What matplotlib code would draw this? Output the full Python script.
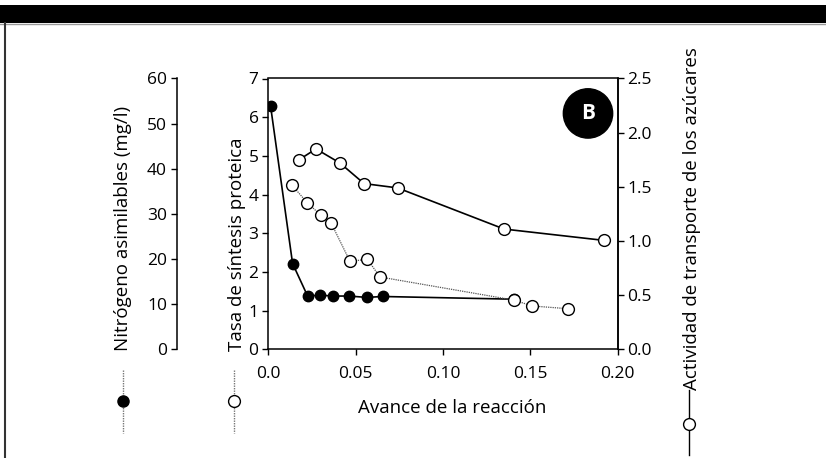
import matplotlib
matplotlib.use('Agg')
import matplotlib.pyplot as plt
from matplotlib.lines import Line2D
from matplotlib.patches import Rectangle

plt.rcParams['font.family'] = ['Open Sans', 'DejaVu Sans']

# data
# nitrogen (filled, mg/l) -- last point hidden under the open circle at ~0.14
nitro_x = [0.0013, 0.0139, 0.0225, 0.0298, 0.0368, 0.0460, 0.0565, 0.0655, 0.1408]
nitro_y = [53.9, 19.0, 11.8, 12.0, 11.8, 11.8, 11.5, 11.7, 11.1]

# protein synthesis rate (open, dotted)
prot_x = [0.0134, 0.0223, 0.0302, 0.0359, 0.0468, 0.0567, 0.0639, 0.1408, 0.1510, 0.1714]
prot_y = [4.25, 3.79, 3.46, 3.27, 2.27, 2.33, 1.87, 1.27, 1.12, 1.05]

# sugar transport activity (open, solid)
sug_x = [0.0176, 0.0273, 0.0410, 0.0548, 0.0740, 0.1350, 0.1924]
sug_y = [1.75, 1.85, 1.72, 1.53, 1.49, 1.11, 1.005]

x_ticks = [0.0, 0.05, 0.10, 0.15, 0.20]
x_labels = ['0.0', '0.05', '0.10', '0.15', '0.20']
prot_ticks = list(range(0, 8))
nitro_ticks = list(range(0, 70, 10))
sug_ticks = [0.0, 0.5, 1.0, 1.5, 2.0, 2.5]

W, H = 826, 458
fig = plt.figure(figsize=(W / 100, H / 100), dpi=100)

def fx(px):
    return px / W

def fy(py):
    return 1 - py / H

# frame of the original figure panel
fig.patches.append(Rectangle((0, fy(23)), 1, fy(5) - fy(23), transform=fig.transFigure,
                             facecolor='black', edgecolor='none', zorder=0))
fig.add_artist(Line2D([0, 1], [fy(23.5), fy(23.5)], color='#999999', lw=1.0))
fig.add_artist(Line2D([fx(5), fx(5)], [0, fy(23)], color='#333333', lw=1.5))

left, right, top, bottom = 268.3, 617.7, 78.5, 349.3
ax = fig.add_axes([fx(left), fy(bottom), (right - left) / W, (bottom - top) / H])

tick_fs = 12.5
label_fs = 13.5
tick_kw = dict(direction='out', length=4, width=1, labelsize=tick_fs, pad=3)
lw_main = 1.1

ax.set_xlim(0, 0.20)
ax.set_ylim(0, 7)
ax.set_xticks(x_ticks)
ax.set_xticklabels(x_labels)
ax.set_yticks(prot_ticks)
ax.tick_params(**tick_kw)
ax.tick_params(axis='x', pad=8)
for s in ax.spines.values():
    s.set_linewidth(lw_main)

# nitrogen axis, moved out to the left
axn = ax.twinx()
axn.set_ylim(0, 60)
axn.set_yticks(nitro_ticks)
axn.yaxis.set_ticks_position('left')
axn.yaxis.set_label_position('left')
for k in ['top', 'right', 'bottom']:
    axn.spines[k].set_visible(False)
axn.spines['left'].set_position(('outward', (left - 176.7) * 0.72))
axn.spines['left'].set_linewidth(lw_main)
axn.tick_params(**tick_kw)

# sugar transport axis on the right
axs = ax.twinx()
axs.set_ylim(0, 2.5)
axs.set_yticks(sug_ticks)
axs.set_yticklabels(['%.1f' % v for v in sug_ticks])
for k in ['top', 'left', 'bottom']:
    axs.spines[k].set_visible(False)
axs.spines['right'].set_linewidth(lw_main)
axs.tick_params(**tick_kw)

axn.plot(nitro_x, nitro_y, color='black', lw=1.2, marker='o', ms=7.5,
         mfc='black', mec='black', zorder=2)
ax.plot(prot_x, prot_y, color='#555555', lw=0.9, ls=(0, (1, 0.8)), marker='o', ms=8.5,
        mfc='white', mec='black', mew=1.0, zorder=3)
axs.plot(sug_x, sug_y, color='black', lw=1.2, marker='o', ms=8.5,
         mfc='white', mec='black', mew=1.0, zorder=3)
ax.set_zorder(axn.get_zorder() + 1)
ax.patch.set_visible(False)

axs.text(0.915, 0.871, 'B', transform=ax.transAxes, ha='center', va='center',
         color='white', fontsize=15, fontweight='bold',
         bbox=dict(boxstyle='circle,pad=0.68', fc='black', ec='black'))

# axis titles
fig.text(fx(452), fy(408), 'Avance de la reacción', ha='center', va='center', fontsize=label_fs)
fig.text(fx(123), fy(351), 'Nitrógeno asimilables (mg/l)', rotation=90,
         ha='center', va='bottom', fontsize=label_fs)
fig.text(fx(237), fy(351), 'Tasa de síntesis proteica', rotation=90,
         ha='center', va='bottom', fontsize=label_fs)
fig.text(fx(692), fy(390), 'Actividad de transporte de los azúcares', rotation=90,
         ha='center', va='bottom', fontsize=label_fs)

# legend glyphs under the titles
for xp, filled in [(123, True), (234, False)]:
    fig.add_artist(Line2D([fx(xp), fx(xp)], [fy(370), fy(433)], color='#777777',
                          lw=1.0, ls=(0, (1, 0.8))))
    fig.add_artist(Line2D([fx(xp)], [fy(401)], marker='o', ms=8 if filled else 8.5,
                          mfc='black' if filled else 'white', mec='black', mew=1.0, lw=0))
fig.add_artist(Line2D([fx(689), fx(689)], [fy(390), fy(455)], color='black', lw=1.0))
fig.add_artist(Line2D([fx(689)], [fy(424)], marker='o', ms=8.5, mfc='white',
                      mec='black', mew=1.0, lw=0))

fig.savefig('out.png', dpi=100)
